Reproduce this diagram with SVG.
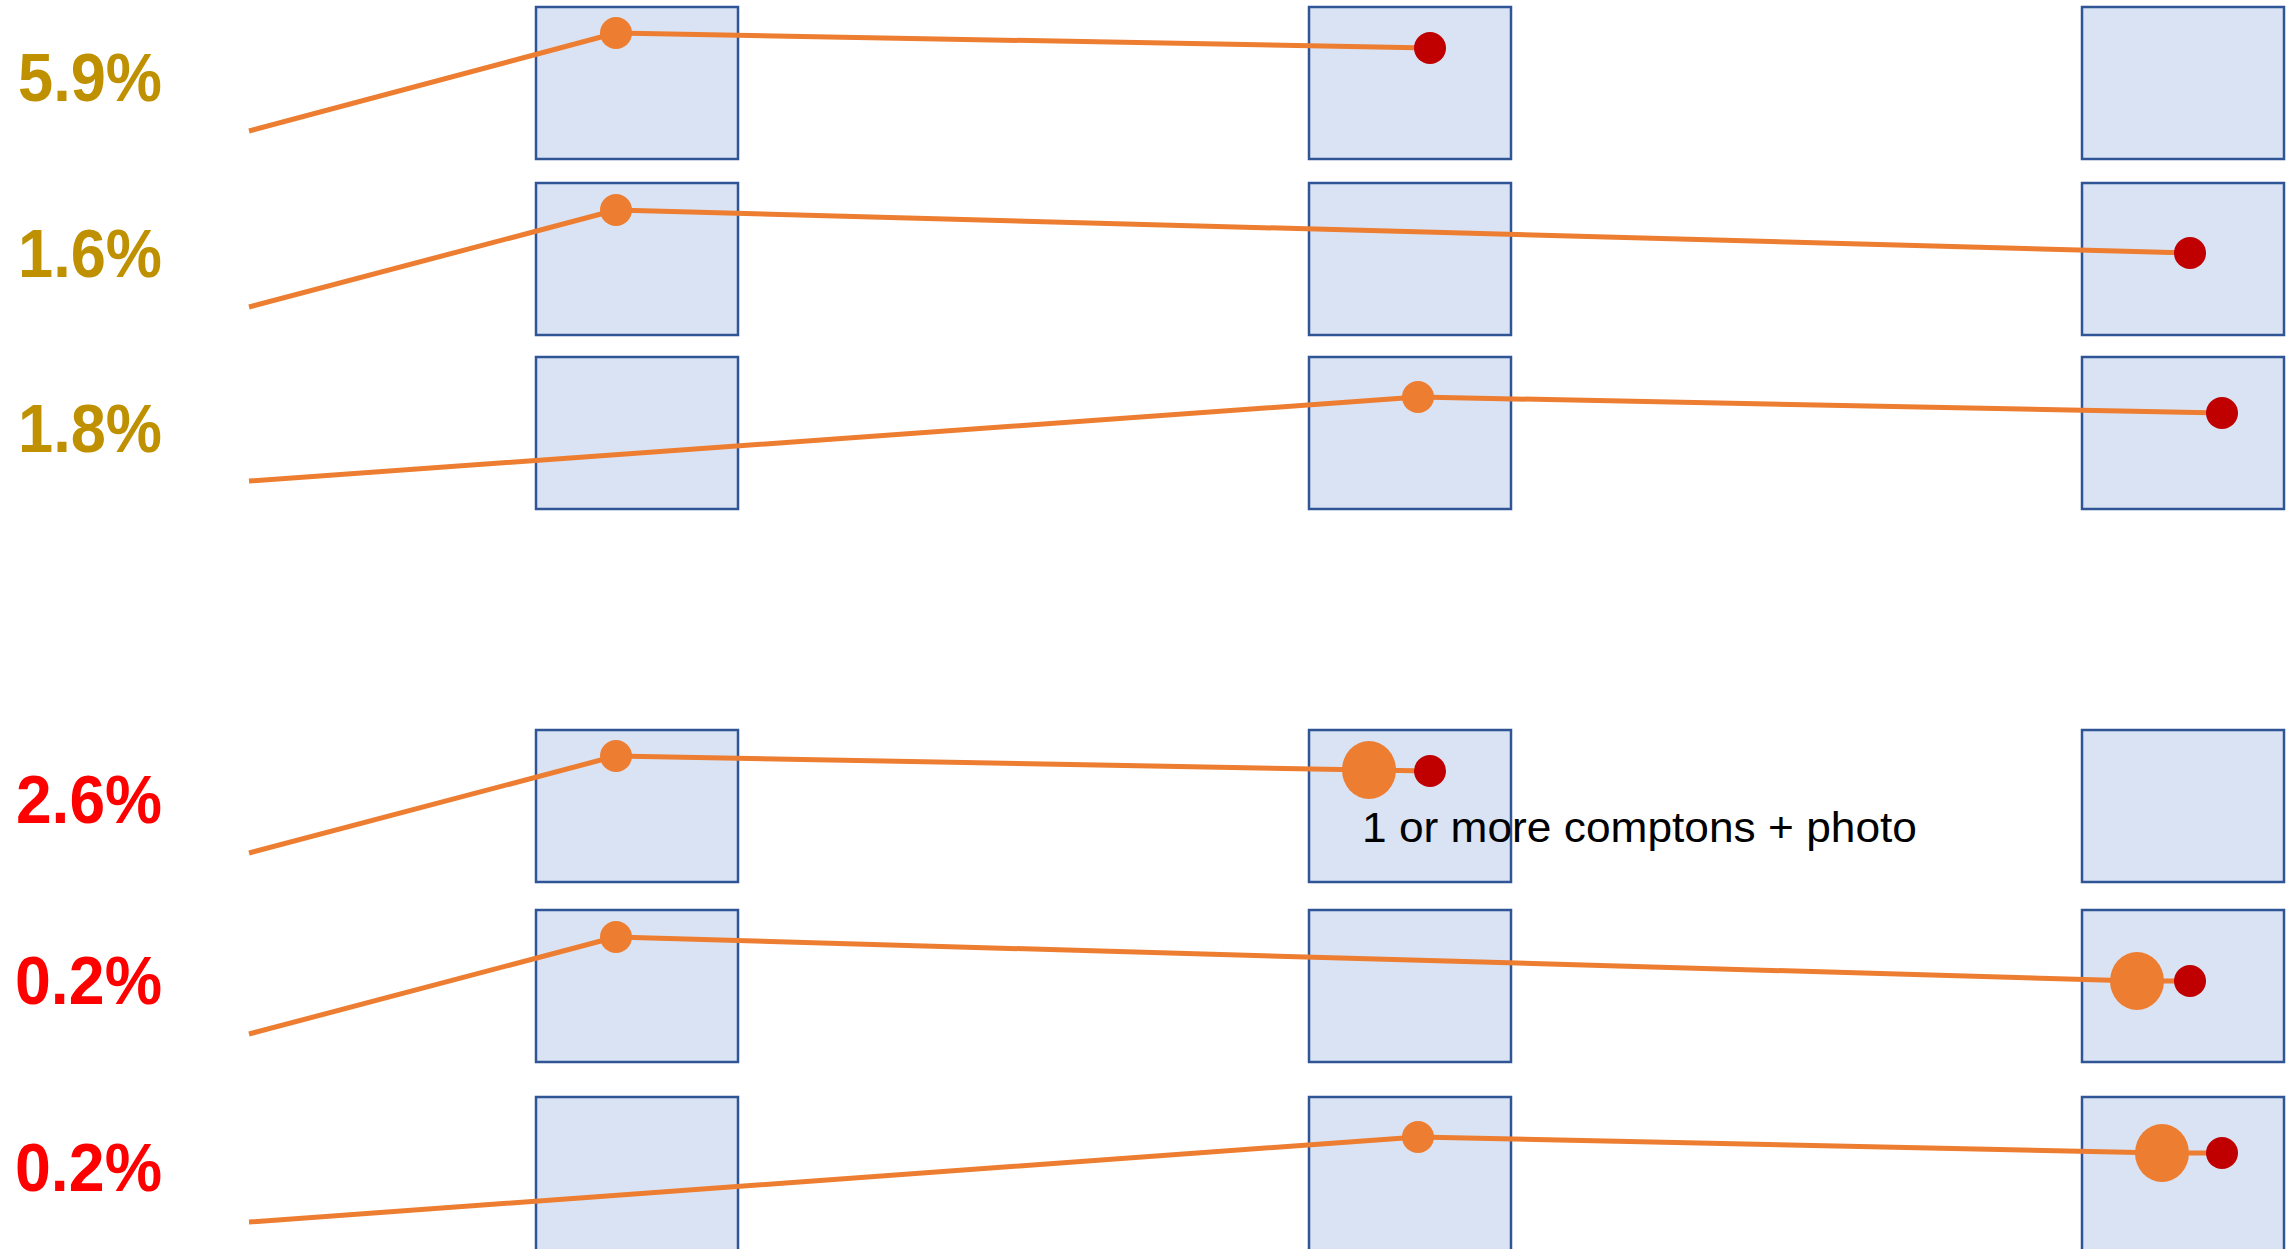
<svg xmlns="http://www.w3.org/2000/svg" width="2286" height="1249" viewBox="0 0 2286 1249">
<style>
.box{fill:#DAE3F3;stroke:#2F5597;stroke-width:2.5}
.trk{fill:none;stroke:#ED7D31;stroke-width:5;stroke-linejoin:round}
.o{fill:#ED7D31}
.r{fill:#C00000}
.pct{font-family:"Liberation Sans",Arial,sans-serif;font-weight:bold;font-size:68px}
.gold{fill:#BF9000}
.red{fill:#FF0000}
.note{font-family:"Liberation Sans",Arial,sans-serif;font-size:42px;fill:#000}
</style>
<rect width="2286" height="1249" fill="#fff"/>
<g id="boxes">
<g id="b11"><rect class="box" x="536" y="7" width="202" height="152"/></g>
<g id="b12"><rect class="box" x="1309" y="7" width="202" height="152"/></g>
<g id="b13"><rect class="box" x="2082" y="7" width="202" height="152"/></g>
<g id="b21"><rect class="box" x="536" y="183" width="202" height="152"/></g>
<g id="b22"><rect class="box" x="1309" y="183" width="202" height="152"/></g>
<g id="b23"><rect class="box" x="2082" y="183" width="202" height="152"/></g>
<g id="b31"><rect class="box" x="536" y="357" width="202" height="152"/></g>
<g id="b32"><rect class="box" x="1309" y="357" width="202" height="152"/></g>
<g id="b33"><rect class="box" x="2082" y="357" width="202" height="152"/></g>
<g id="b41"><rect class="box" x="536" y="730" width="202" height="152"/></g>
<g id="b42"><rect class="box" x="1309" y="730" width="202" height="152"/></g>
<g id="b43"><rect class="box" x="2082" y="730" width="202" height="152"/></g>
<g id="b51"><rect class="box" x="536" y="910" width="202" height="152"/></g>
<g id="b52"><rect class="box" x="1309" y="910" width="202" height="152"/></g>
<g id="b53"><rect class="box" x="2082" y="910" width="202" height="152"/></g>
<g id="b61"><rect class="box" x="536" y="1097" width="202" height="156"/></g>
<g id="b62"><rect class="box" x="1309" y="1097" width="202" height="156"/></g>
<g id="b63"><rect class="box" x="2082" y="1097" width="202" height="156"/></g>
</g>
<g id="labels">
<text class="pct gold" x="18" y="101" textLength="144" lengthAdjust="spacingAndGlyphs">5.9%</text>
<text class="pct gold" x="18" y="277" textLength="144" lengthAdjust="spacingAndGlyphs">1.6%</text>
<text class="pct gold" x="18" y="452" textLength="144" lengthAdjust="spacingAndGlyphs">1.8%</text>
<text class="pct red" x="16" y="823" textLength="146" lengthAdjust="spacingAndGlyphs">2.6%</text>
<text class="pct red" x="15" y="1004" textLength="147" lengthAdjust="spacingAndGlyphs">0.2%</text>
<text class="pct red" x="15" y="1191" textLength="147" lengthAdjust="spacingAndGlyphs">0.2%</text>
<text class="note" x="1362" y="842" textLength="555" lengthAdjust="spacingAndGlyphs">1 or more comptons + photo</text>
</g>
<g id="connectors">
<polyline class="trk" points="249,131 616,33 1430,48"/>
<polyline class="trk" points="249,307 616,210 2190,253"/>
<polyline class="trk" points="249,481 1418,397 2222,413"/>
<polyline class="trk" points="249,853 616,756 1369,770 1430,771"/>
<polyline class="trk" points="249,1034 616,937 2137,981 2190,981"/>
<polyline class="trk" points="249,1222 1418,1137 2162,1153 2222,1153"/>
</g>
<g id="dots">
<circle class="o" cx="616" cy="33" r="16"/>
<circle class="r" cx="1430" cy="48" r="16"/>
<circle class="o" cx="616" cy="210" r="16"/>
<circle class="r" cx="2190" cy="253" r="16"/>
<circle class="o" cx="1418" cy="397" r="16"/>
<circle class="r" cx="2222" cy="413" r="16"/>
<circle class="o" cx="616" cy="756" r="16"/>
<ellipse class="o" cx="1369" cy="770" rx="27" ry="29"/>
<circle class="r" cx="1430" cy="771" r="16"/>
<circle class="o" cx="616" cy="937" r="16"/>
<ellipse class="o" cx="2137" cy="981" rx="27" ry="29"/>
<circle class="r" cx="2190" cy="981" r="16"/>
<circle class="o" cx="1418" cy="1137" r="16"/>
<ellipse class="o" cx="2162" cy="1153" rx="27" ry="29"/>
<circle class="r" cx="2222" cy="1153" r="16"/>
</g>
</svg>
